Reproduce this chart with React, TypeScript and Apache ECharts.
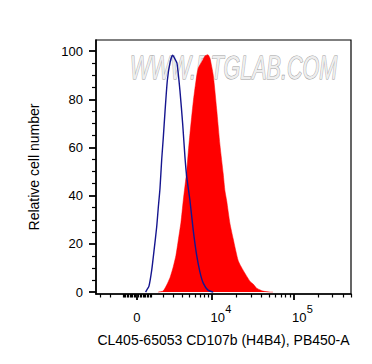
import React, { useEffect, useRef } from 'react';
import * as echarts from 'echarts';

// biexponential-like display transform (asinh)
const LOGICLE_C = 2454;
const toDisplay = (v: number) => Math.asinh(v / LOGICLE_C) / Math.LN10;

// Control (blue outline)
const blueIntensity = [600, 677, 843, 1042, 1216, 1428, 1557, 1698, 1844, 1982, 2140, 2360, 2634, 2893, 3145, 3374, 3738, 4089, 4404, 4650, 5157, 5710, 6330, 6987, 7705, 8845, 10311];
const blueCount = [0, 0.8, 2.5, 9, 17, 27, 35, 43, 55, 64, 75, 88, 95.5, 98.3, 96.7, 95, 83.5, 69.8, 56, 48, 38, 25.6, 15.3, 8.3, 3.7, 0.8, 0];

// Stained (red filled)
const redIntensity = [1533, 1957, 2292, 2634, 2957, 3258, 3528, 3864, 4167, 4650, 4891, 5157, 5710, 6198, 6643, 7350, 8100, 8845, 9371, 10311, 11372, 12501, 13735, 14418, 15132, 16618, 18250, 21028, 24213, 29250, 32100, 35340, 42530, 51340, 55860];
const redCount = [0, 0.4, 2.9, 6.2, 10.5, 15.3, 21.5, 29, 38, 50, 58, 65.7, 79, 87.6, 93, 95.5, 98, 98.5, 97, 90, 76, 61, 49, 42, 38, 28.5, 22, 13, 9, 4.5, 3.3, 1.6, 0.4, 0, 0];

const yMajorTicks = [0, 20, 40, 60, 80, 100];
const yMinorTicks = [5, 10, 15, 25, 30, 35, 45, 50, 55, 65, 70, 75, 85, 90, 95];
const xLabelTicks = [0, 10000, 100000];
const xLabelBase = ['0', '10', '10'];
const xExpTicks = [10000, 100000];
const xExpText = ['4', '5'];
const xMinorTicks = [-3000, -2000, -1000, -900, -800, -700, -600, -500, -400, -300, -200, -100, 100, 200, 300, 400, 500, 600, 700, 800, 900, 1000, 2000, 3000, 4000, 5000, 6000, 7000, 8000, 9000, 20000, 30000, 40000, 50000, 60000, 70000, 80000, 90000, 200000, 300000, 400000, 500000];

const xTitle = 'CL405-65053 CD107b (H4B4), PB450-A';
const yTitle = 'Relative cell number';
const watermark = 'WWW.PTGLAB.COM';

const FONT = 'Liberation Sans, Arial, sans-serif';

export default function App() {
  const ref = useRef<HTMLDivElement>(null);
  useEffect(() => {
    if (!ref.current) return;
    const chart = echarts.init(ref.current, null, { renderer: 'svg' });
    const xMin = -0.5;
    const xMax = 2.611;
    const yMin = -0.8;
    const yMax = 104.6;
    const labelVals = xLabelTicks.map(toDisplay);
    const expVals = xExpTicks.map(toDisplay);
    const findIdx = (arr: number[], v: number) => arr.findIndex((a) => Math.abs(a - v) < 1e-6);
    const fmtBase = (v: number) => {
      const i = findIdx(labelVals, v);
      if (i < 0) return '';
      return i === 0 ? '{c|' + xLabelBase[i] + '}' : '{p|' + xLabelBase[i] + '}';
    };
    const fmtExp = (v: number) => {
      const i = findIdx(expVals, v);
      return i < 0 ? '' : xExpText[i];
    };
    const hidden = { show: false };
    chart.setOption({
      animation: false,
      backgroundColor: '#ffffff',
      grid: {
        left: 96, right: 21, top: 40, bottom: 70,
        show: true, borderColor: '#000', borderWidth: 1.2, backgroundColor: 'transparent',
      },
      graphic: [
        {
          type: 'text', x: 130, y: 50, scaleX: 0.633, z: 1,
          style: {
            text: watermark, x: 0, y: 0, fontSize: 34, fontFamily: FONT, fontStyle: 'italic',
            fill: '#eeeeee', stroke: '#9a9a9a', lineWidth: 1.1, textAlign: 'left', textVerticalAlign: 'top',
          },
        },
      ],
      xAxis: [
        {
          type: 'value', min: xMin, max: xMax, position: 'bottom',
          name: xTitle, nameLocation: 'middle', nameGap: 39,
          nameTextStyle: { fontSize: 14, fontFamily: FONT, color: '#000' },
          axisLine: { show: true, onZero: false, lineStyle: { color: '#000', width: 1.6 } },
          axisTick: { show: true, customValues: labelVals, length: 6, lineStyle: { color: '#000', width: 1.8 } },
          axisLabel: {
            show: true, customValues: labelVals, formatter: fmtBase, margin: 17, color: '#000',
            verticalAlign: 'top',
            rich: {
              c: { fontSize: 13, fontFamily: FONT, color: '#000' },
              p: { fontSize: 13, fontFamily: FONT, color: '#000', padding: [0, 0, 0, 11] },
            },
          },
          splitLine: hidden,
        },
        {
          type: 'value', min: xMin, max: xMax, position: 'bottom',
          axisLine: { show: false, onZero: false },
          axisTick: { show: true, customValues: xMinorTicks.map(toDisplay), length: 3.5, lineStyle: { color: '#000', width: 1.2 } },
          axisLabel: hidden,
          splitLine: hidden,
        },
        {
          type: 'value', min: xMin, max: xMax, position: 'bottom',
          axisLine: { show: false, onZero: false },
          axisTick: hidden,
          axisLabel: {
            show: true, customValues: expVals, formatter: fmtExp, margin: 9, align: 'left',
            verticalAlign: 'top',
            padding: [0, 0, 0, 13], fontSize: 11, fontFamily: FONT, color: '#000',
          },
          splitLine: hidden,
        },
      ],
      yAxis: [
        {
          type: 'value', min: yMin, max: yMax, position: 'left',
          name: yTitle, nameLocation: 'middle', nameGap: 55,
          nameTextStyle: { fontSize: 14, fontFamily: FONT, color: '#000' },
          axisLine: { show: true, onZero: false, lineStyle: { color: '#000', width: 1.6 } },
          axisTick: { show: true, customValues: yMajorTicks, length: 7, lineStyle: { color: '#000', width: 1.8 } },
          axisLabel: { show: true, customValues: yMajorTicks, margin: 13, fontSize: 13, fontFamily: FONT, color: '#000' },
          splitLine: hidden,
        },
        {
          type: 'value', min: yMin, max: yMax, position: 'left',
          axisLine: { show: false, onZero: false },
          axisTick: { show: true, customValues: yMinorTicks, length: 4, lineStyle: { color: '#000', width: 1.2 } },
          axisLabel: hidden,
          splitLine: hidden,
        },
      ],
      series: [
        {
          type: 'line', xAxisIndex: 0, yAxisIndex: 0, z: 2,
          data: redIntensity.map((v, i) => [toDisplay(v), redCount[i]]),
          showSymbol: false, smooth: 0.2,
          lineStyle: { color: '#ff0000', width: 0.5 },
          areaStyle: { color: '#ff0000', opacity: 1 },
        },
        {
          type: 'line', xAxisIndex: 0, yAxisIndex: 0, z: 3,
          data: blueIntensity.map((v, i) => [toDisplay(v), blueCount[i]]),
          showSymbol: false, smooth: 0.2,
          lineStyle: { color: '#15158f', width: 1.4 },
        },
      ],
    });
    return () => chart.dispose();
  }, []);
  return (
    <div
      ref={ref}
      style={{ position: 'fixed', left: 0, top: 0, width: 372, height: 364, background: '#fff' }}
    />
  );
}
